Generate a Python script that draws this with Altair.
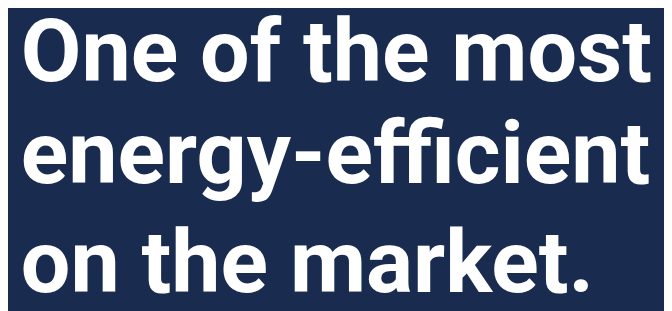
import altair as alt
import pandas as pd

lines = ["One of the most", "energy-efficient", "on the market."]
line_index = [0, 1, 2]

df = pd.DataFrame({"line": line_index, "text": lines})

chart = alt.Chart(df).mark_text(
    align="left", baseline="alphabetic", font="Roboto", fontWeight="bold",
    fontSize=89, color="white"
).encode(
    x=alt.value(13),
    y=alt.Y("line:Q", axis=None,
            scale=alt.Scale(domain=[0, 1, 2], range=[72, 175, 286], nice=False, zero=False)),
    text="text:N",
).properties(
    width=664, height=303, background="#1a2b50",
    autosize=alt.AutoSizeParams(type="none"), padding=0,
).configure_view(stroke=None)

chart.save("out.html", embed_options={"renderer": "svg", "actions": False})
